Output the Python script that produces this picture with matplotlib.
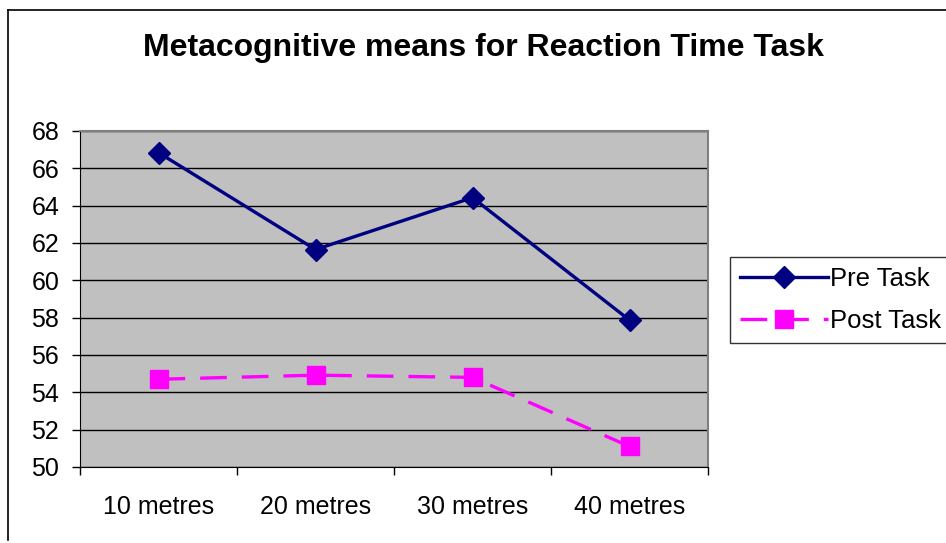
import matplotlib
matplotlib.use("Agg")
import matplotlib.pyplot as plt
from matplotlib.lines import Line2D

categories = ["10 metres", "20 metres", "30 metres", "40 metres"]
pre_task = [66.84, 61.65, 64.43, 57.87]
post_task = [54.70, 54.92, 54.80, 51.10]
yticks = [50, 52, 54, 56, 58, 60, 62, 64, 66, 68]

plt.rcParams['font.family'] = ['Liberation Sans', 'DejaVu Sans']

W, H = 946, 543
fig = plt.figure(figsize=(W / 100, H / 100), dpi=100)
fig.patch.set_facecolor("white")

# outer chart frame
fig.add_artist(Line2D([8 / W, 8 / W], [1 - 540 / H, 1 - 10 / H], color="black", lw=1.2,
                      transform=fig.transFigure))
fig.add_artist(Line2D([8 / W, 1], [1 - 10 / H, 1 - 10 / H], color="black", lw=1.2,
                      transform=fig.transFigure))

ax = fig.add_axes([80 / W, 1 - 467 / H, (708 - 80) / W, (467 - 131) / H])
ax.set_facecolor("#c0c0c0")

x = list(range(len(categories)))
ax.plot(x, pre_task, color="#000080", lw=2.4, marker="D", markersize=11, label="Pre Task")
ax.plot(x, post_task, color="#ff00ff", lw=2.4, ls=(0, (8, 4.5)), marker="s", markersize=13,
        label="Post Task")

ax.set_xlim(-0.5, 3.5)
ax.set_ylim(50, 68)
ax.set_yticks(yticks)
ax.set_xticks([-0.5, 0.5, 1.5, 2.5, 3.5], minor=False)
ax.set_xticklabels([])
ax.set_xticks(x, minor=True)
ax.set_xticklabels(categories, minor=True)
ax.tick_params(axis="x", which="minor", length=0, labelsize=18, pad=20)
ax.tick_params(axis="x", which="major", length=6, direction="out", width=1, color="black")
ax.tick_params(axis="y", length=6, direction="out", labelsize=18, width=1, pad=9)
ax.yaxis.grid(True, color="black", lw=1)
ax.set_axisbelow(True)
for side in ["top", "right"]:
    ax.spines[side].set_color("#808080")
    ax.spines[side].set_linewidth(1.5)
ax.spines["left"].set_color("black")
ax.spines["bottom"].set_color("black")

fig.text(483 / W, 1 - 48 / H, "Metacognitive means for Reaction Time Task",
         ha="center", va="center", fontsize=23, fontweight="bold")

leg = fig.legend(loc="upper left", bbox_to_anchor=(730 / W, 1 - 257 / H), fontsize=18.5,
                 frameon=True, fancybox=False, edgecolor="black", handlelength=3.4,
                 borderpad=0.4, labelspacing=0.68, handletextpad=0.1, borderaxespad=0)
leg.get_frame().set_linewidth(1)

fig.savefig("out.png", dpi=100, facecolor="white")
